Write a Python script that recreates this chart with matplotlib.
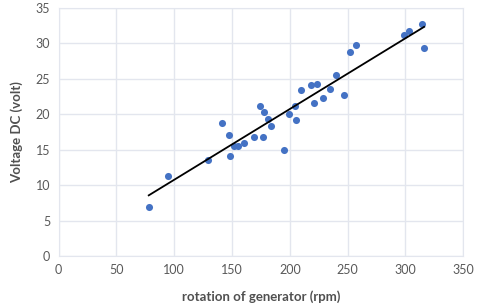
import numpy as np
import matplotlib
matplotlib.use("Agg")
import matplotlib.pyplot as plt

rpm = [78, 94.5, 129, 141.3, 147.4, 148.2, 151.7, 155.4, 160.6, 169, 174.4,
       176.7, 177.6, 180.8, 183.7, 195.3, 199.4, 204.8, 205, 209.5, 218, 221,
       223.3, 228.9, 234.7, 240.4, 246.8, 252, 257.7, 298.6, 302.7, 314.2, 316.2]
volt = [6.9, 11.3, 13.6, 18.8, 17.1, 14.1, 15.5, 15.5, 15.9, 16.8, 21.1,
        16.8, 20.3, 19.35, 18.4, 15.0, 20.0, 21.2, 19.2, 23.4, 24.2, 21.65,
        24.3, 22.3, 23.5, 25.6, 22.7, 28.8, 29.8, 31.2, 31.7, 32.7, 29.4]

plt.rcParams['font.family'] = ['Lato', 'DejaVu Sans']

fig = plt.figure(figsize=(4.8, 3.07), dpi=100)
ax = fig.add_axes([0.122, 0.166, 0.843, 0.808])

ax.scatter(rpm, volt, s=26, color="#4472C4", zorder=3, linewidths=0)

# linear trendline
k, b = np.polyfit(rpm, volt, 1)
xs = np.array([min(rpm), max(rpm)])
ax.plot(xs, k * xs + b, color="black", lw=1.3, zorder=4)

ax.set_xlim(0, 350)
ax.set_ylim(0, 35)
ax.set_xticks(range(0, 351, 50))
ax.set_yticks(range(0, 36, 5))
ax.grid(True, color="#E3E6EE", lw=1)
ax.set_axisbelow(True)
for s in ax.spines.values():
    s.set_color("#E3E6EE")
ax.tick_params(length=0, labelsize=9, colors="#595959", pad=6)

ax.set_xlabel("rotation of generator (rpm)", fontsize=9.5, fontweight="bold",
              color="#505050", labelpad=10)
ax.set_ylabel("Voltage DC (volt)", fontsize=9.5, fontweight="bold",
              color="#505050", labelpad=9)

fig.savefig("out.png", dpi=100)
